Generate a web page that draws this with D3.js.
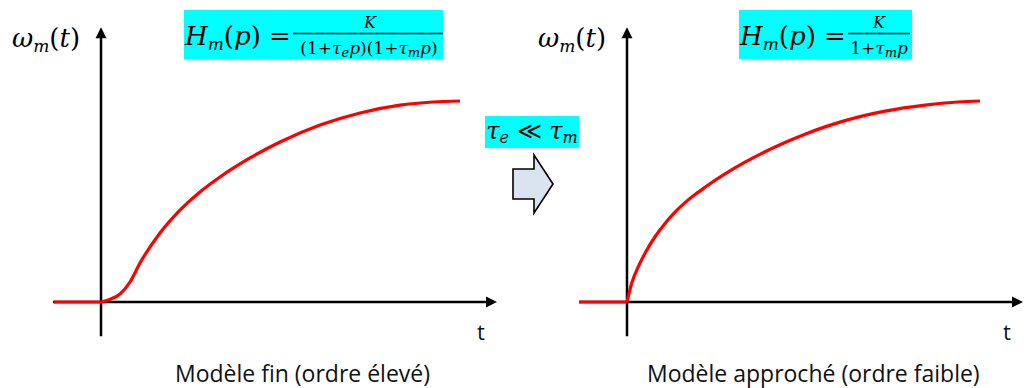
<!DOCTYPE html>
<html><head><meta charset="utf-8">
<script src="https://cdn.jsdelivr.net/npm/d3@7"></script>
<style>
html,body{margin:0;padding:0;background:#fff;}
svg{display:block;}
.math{font-family:"DejaVu Serif","Liberation Serif",serif;font-style:italic;fill:#000;}
.up{font-style:normal;}
.cap{font-family:"Open Sans","Liberation Sans",sans-serif;fill:#111;}
</style></head>
<body>
<svg id="c" width="1024" height="388"></svg>
<script>
// ---- data (t in arbitrary time units, value normalised to final value) ----
const tHigh  = [-1.175, 0, 0.25, 0.475, 0.725, 0.975, 1.475, 1.975, 2.475, 2.975, 3.725, 4.475, 5.475, 6.475, 7.475, 8.3, 8.975];
const vHigh  = [0, 0, 0.015, 0.04, 0.099, 0.193, 0.342, 0.455, 0.545, 0.619, 0.713, 0.792, 0.876, 0.936, 0.975, 0.99, 0.995];
const tLow   = [-1.2, 0, 0.117, 0.283, 0.45, 0.7, 0.95, 1.2, 1.45, 1.7, 1.95, 2.45, 2.95, 3.45, 3.95, 4.45, 4.95, 5.45, 6.45, 7.45, 8.275, 8.825];
const vLow   = [0, 0, 0.093, 0.175, 0.241, 0.323, 0.389, 0.445, 0.492, 0.532, 0.568, 0.634, 0.692, 0.744, 0.790, 0.831, 0.867, 0.898, 0.945, 0.975, 0.990, 0.995];
const captions = ["Modèle fin (ordre élevé)", "Modèle approché (ordre faible)"];
const axisT = [-1.2, 9.9];     // time-axis extent
const axisV = [-0.17, 1.36];   // value-axis extent

const svg = d3.select("#c");
const yScale = d3.scaleLinear().domain([0, 1]).range([302, 100]);

function panel(x0, t, v, caption, capX) {
  const xs = d3.scaleLinear().domain([0, 1]).range([x0, x0 + 40]);
  const g = svg.append("g");
  const xEnd = xs(axisT[1]), yTop = yScale(axisV[1]);
  g.append("line").attr("x1", xs(axisT[0])).attr("x2", xEnd - 8)
    .attr("y1", yScale(0)).attr("y2", yScale(0)).attr("stroke", "#000").attr("stroke-width", 2.5);
  g.append("line").attr("x1", xs(0)).attr("x2", xs(0))
    .attr("y1", yScale(axisV[0])).attr("y2", yTop + 8).attr("stroke", "#000").attr("stroke-width", 2.5);
  g.append("path").attr("d", `M${xEnd},${yScale(0)} L${xEnd-11},${yScale(0)-5.5} L${xEnd-11},${yScale(0)+5.5}Z`).attr("fill", "#000");
  g.append("path").attr("d", `M${xs(0)},${yTop} L${xs(0)-5.5},${yTop+11} L${xs(0)+5.5},${yTop+11}Z`).attr("fill", "#000");
  const pts = t.map((d, i) => [d, v[i]]);
  const pre = pts.filter(p => p[0] <= 0), post = pts.filter(p => p[0] >= 0);
  const ln = d3.line().x(d => xs(d[0])).y(d => yScale(d[1]));
  g.append("path").datum(pre).attr("d", ln.curve(d3.curveLinear))
    .attr("fill", "none").attr("stroke", "#ff0000").attr("stroke-width", 3.2);
  g.append("path").datum(post).attr("d", ln.curve(d3.curveMonotoneX))
    .attr("fill", "none").attr("stroke", "#ff0000").attr("stroke-width", 3.2).attr("stroke-linejoin", "round");
  g.append("text").attr("class", "cap").attr("x", xEnd - 16).attr("y", 340)
    .attr("text-anchor", "middle").attr("font-size", 22).text("t");
  g.append("text").attr("class", "cap").attr("x", capX).attr("y", 382)
    .attr("font-size", 23).text(caption);
  const w = g.append("text").attr("class", "math").attr("x", x0 - 89).attr("y", 47).attr("font-size", 26);
  w.append("tspan").text("ω");
  w.append("tspan").attr("font-size", 17).attr("dy", 5).text("m");
  w.append("tspan").attr("class", "up").attr("dy", -5).text("(");
  w.append("tspan").text("t");
  w.append("tspan").attr("class", "up").text(")");
}

panel(101, tHigh, vHigh, captions[0], 175);
panel(627, tLow, vLow, captions[1], 647);

function hm(x, y) {
  const t = svg.append("text").attr("class", "math").attr("x", x).attr("y", y).attr("font-size", 26);
  t.append("tspan").text("H");
  t.append("tspan").attr("font-size", 17).attr("dy", 5).text("m");
  t.append("tspan").attr("class", "up").attr("dy", -5).text("(");
  t.append("tspan").text("p");
  t.append("tspan").attr("class", "up").text(") =");
}
function denom(parts, x, y) {
  const t = svg.append("text").attr("class", "math").attr("x", x).attr("y", y).attr("font-size", 17).attr("text-anchor", "middle");
  parts.forEach(p => {
    const s = t.append("tspan").text(p[0]);
    if (p[1] === "up") s.attr("class", "up");
    if (p[1] === "sub") s.attr("font-size", 13).attr("dy", 3);
    if (p[1] === "back") s.attr("dy", -3);
  });
}
// left
svg.append("rect").attr("x", 184).attr("y", 10).attr("width", 259).attr("height", 49).attr("fill", "#00ffff");
hm(185, 45);
svg.append("line").attr("x1", 293).attr("x2", 443).attr("y1", 33.5).attr("y2", 33.5).attr("stroke", "#000").attr("stroke-width", 1.3);
svg.append("text").attr("class", "math").attr("x", 370).attr("y", 28).attr("font-size", 16).attr("text-anchor", "middle").text("K");
denom([["(1+", "up"], ["τ"], ["e", "sub"], ["p", "back"], [")(1+", "up"], ["τ"], ["m", "sub"], ["p", "back"], [")", "up"]], 369, 54);
// right
svg.append("rect").attr("x", 739).attr("y", 10).attr("width", 173).attr("height", 49).attr("fill", "#00ffff");
hm(740, 45);
svg.append("line").attr("x1", 848).attr("x2", 910).attr("y1", 33.5).attr("y2", 33.5).attr("stroke", "#000").attr("stroke-width", 1.3);
svg.append("text").attr("class", "math").attr("x", 879).attr("y", 28).attr("font-size", 16).attr("text-anchor", "middle").text("K");
denom([["1+", "up"], ["τ"], ["m", "sub"], ["p", "back"]], 879, 54);

// middle
svg.append("rect").attr("x", 485).attr("y", 116).attr("width", 94).attr("height", 32).attr("fill", "#00ffff");
const mid = svg.append("text").attr("class", "math").attr("x", 532).attr("y", 139).attr("font-size", 24).attr("text-anchor", "middle");
mid.append("tspan").text("τ");
mid.append("tspan").attr("font-size", 16).attr("dy", 4).text("e");
mid.append("tspan").attr("class", "up").attr("dy", -4).text(" ≪ ");
mid.append("tspan").text("τ");
mid.append("tspan").attr("font-size", 16).attr("dy", 4).text("m");

svg.append("path").attr("d", "M513,169 L534,169 L534,155 L553,184 L534,213 L534,199 L513,199 Z")
  .attr("fill", "#dae3f0").attr("stroke", "#000").attr("stroke-width", 1.6).attr("stroke-linejoin", "miter");
</script>
</body></html>
